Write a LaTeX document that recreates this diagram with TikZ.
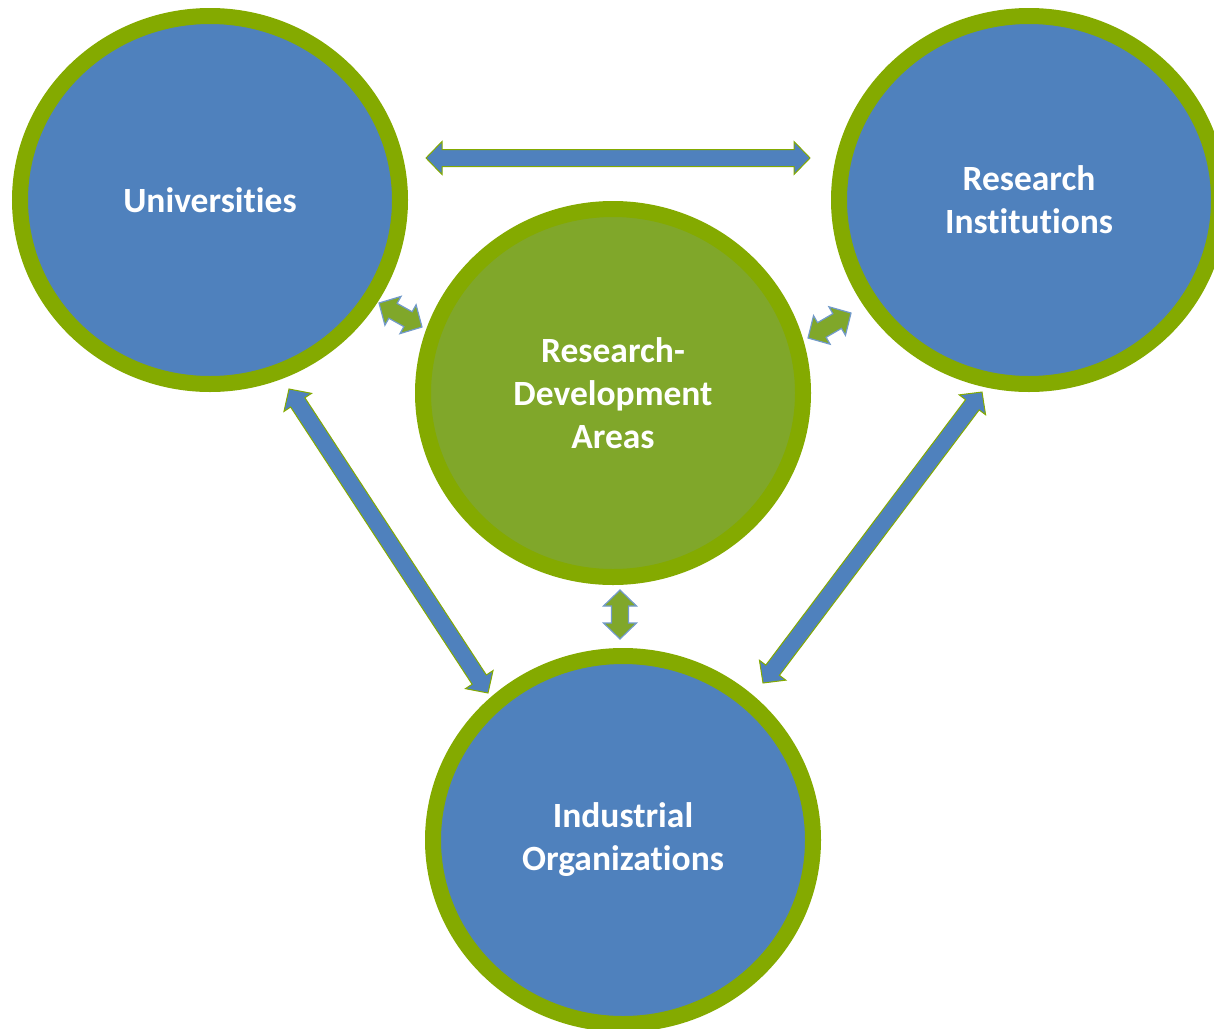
\documentclass[tikz,border=0pt]{standalone}
\usepackage{fontspec}
\setmainfont{Carlito}[Ligatures=CommonOff]
\usetikzlibrary{calc,shapes.geometric}

\definecolor{ringgreen}{RGB}{132,170,0}
\definecolor{hubgreen}{RGB}{128,167,42}
\definecolor{fillblue}{RGB}{79,129,189}

\tikzset{
  orgnode/.style={ellipse, draw=ringgreen, line width=16pt, fill=fillblue,
    minimum width=380pt, minimum height=368pt, inner sep=0pt,
    text=white, align=center, font=\bfseries\fontsize{35.5}{43}\selectfont},
  hubnode/.style={orgnode, fill=hubgreen},
  bigarrow/.style={fill=fillblue, draw=ringgreen, line width=1pt, line join=miter},
  smallarrow/.style={fill=hubgreen, draw=fillblue!80!white, line width=1.2pt, line join=miter}
}

% double block arrow between two named points
\newcommand{\dblarrow}[3]{%
  \draw[#1] (#2)
    -- ($(#2)!16pt!(#3)!16.5pt!90:(#3)$)
    -- ($(#2)!16pt!(#3)!8.5pt!90:(#3)$)
    -- ($(#3)!16pt!(#2)!8.5pt!-90:(#2)$)
    -- ($(#3)!16pt!(#2)!16.5pt!-90:(#2)$)
    -- (#3)
    -- ($(#3)!16pt!(#2)!16.5pt!90:(#2)$)
    -- ($(#3)!16pt!(#2)!8.5pt!90:(#2)$)
    -- ($(#2)!16pt!(#3)!8.5pt!-90:(#3)$)
    -- ($(#2)!16pt!(#3)!16.5pt!-90:(#3)$)
    -- cycle;}

\begin{document}
\begin{tikzpicture}[x=1pt, y=-1pt]
  \useasboundingbox (0,0) rectangle (1214,1028);

  \node[orgnode] (uni) at (210,200) {Universities};
  \node[orgnode] (inst) at (1029,200) {Research\\Institutions};
  \node[hubnode] (rd) at (613,393) {Research-\\Development\\Areas};
  \node[orgnode] (ind) at (623,840) {Industrial\\Organizations};

  % arrow ends
  \coordinate (top1) at (426,158);
  \coordinate (top2) at (810,158);
  \coordinate (left1) at (289,389);
  \coordinate (left2) at (488,693);
  \coordinate (right1) at (982,392);
  \coordinate (right2) at (763,683);
  \coordinate (ul1) at (379,303);
  \coordinate (ul2) at (422,327);
  \coordinate (ur1) at (808,338);
  \coordinate (ur2) at (851,313);
  \coordinate (low1) at (620,590);
  \coordinate (low2) at (620,639);

  \dblarrow{bigarrow}{top1}{top2}
  \dblarrow{bigarrow}{left1}{left2}
  \dblarrow{bigarrow}{right1}{right2}
  \dblarrow{smallarrow}{ul1}{ul2}
  \dblarrow{smallarrow}{ur1}{ur2}
  \dblarrow{smallarrow}{low1}{low2}
\end{tikzpicture}
\end{document}
